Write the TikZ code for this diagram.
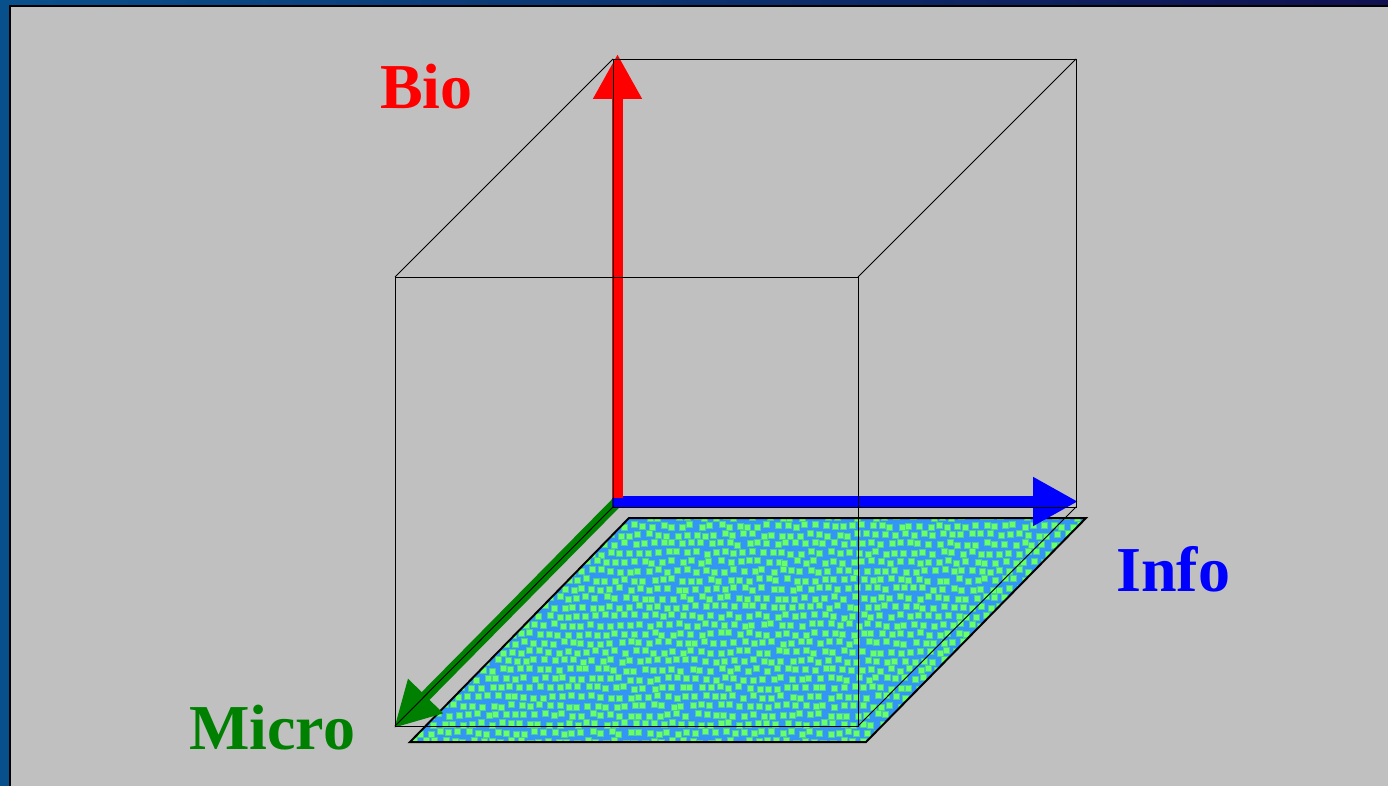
\documentclass[tikz,border=0pt]{standalone}
\usepackage{fontspec}
\setmainfont{Liberation Serif}
\usetikzlibrary{arrows.meta}
\definecolor{bggray}{RGB}{192,192,192}
\definecolor{framblue}{RGB}{8,80,140}
\definecolor{framnavy}{RGB}{16,16,80}
\definecolor{planeblue}{RGB}{51,150,245}
\definecolor{sqgreen}{RGB}{105,255,105}
\definecolor{sqedge}{RGB}{75,205,160}
\definecolor{axgreen}{RGB}{0,128,0}
\begin{document}
\begin{tikzpicture}[x=1pt,y=-1pt,
  axis/.style={line width=11pt,-{Triangle[length=45pt,width=46pt]}},
  cubeedge/.style={black,line width=0.9pt},
  lbl/.style={font=\fontsize{64}{70}\selectfont\bfseries,inner sep=0pt,anchor=base west}]
\useasboundingbox (0,0) rectangle (1388,786);
\fill[bggray] (0,0) rectangle (1388,786);
% frame
\fill[framblue] (0,0) rectangle (9,786);
\shade[left color=framblue,right color=framnavy] (0,0) rectangle (1388,5);
\draw[black,line width=2pt] (10,786) -- (10,6) -- (1388,6);
% cube corners
\coordinate (fTL) at (395,277);
\coordinate (fTR) at (858,277);
\coordinate (fBL) at (395,726);
\coordinate (fBR) at (858,726);
\coordinate (bTL) at (613,59);
\coordinate (bTR) at (1076,59);
\coordinate (bBL) at (613,507);
\coordinate (bBR) at (1076,507);
% plane
\coordinate (pTL) at (629,518);
\coordinate (pTR) at (1086,518);
\coordinate (pBR) at (866,742);
\coordinate (pBL) at (410,742);
\fill[planeblue] (pTL) -- (pTR) -- (pBR) -- (pBL) -- cycle;
\begin{scope}
\clip (pTL) -- (pTR) -- (pBR) -- (pBL) -- cycle;
\pgfmathsetseed{7}
\foreach \j in {0,...,25}{
  \foreach \i in {0,...,74}{
    \pgfmathsetmacro\px{400+\i*9.5+mod(\j,2)*4.75+4*rnd}
    \pgfmathsetmacro\py{515+\j*9+4*rnd}
    \fill[sqedge] (\px-3.5,\py-3.5) rectangle (\px+3.5,\py+3.5);
    \fill[sqgreen] (\px-2.5,\py-2.5) rectangle (\px+2.5,\py+2.5);
  }
}
\end{scope}
\draw[black,line width=2pt,line join=miter] (pTL) -- (pTR) -- (pBR) -- (pBL) -- cycle;
% axes
\coordinate (gS) at (616,503);
\coordinate (gE) at (394,728);
\coordinate (bS) at (612,501.5);
\coordinate (bE) at (1078,501.5);
\coordinate (rS) at (617.5,498);
\coordinate (rE) at (617.5,54);
\draw[axis,axgreen] (gS) -- (gE);
\draw[axis,blue] (bS) -- (bE);
\draw[axis,red] (rS) -- (rE);
% cube edges
\draw[cubeedge] (fTL) -- (fTR) -- (fBR) -- (fBL) -- cycle;
\draw[cubeedge] (bBL) -- (bTL) -- (bTR) -- (bBR) -- cycle;
\draw[cubeedge] (fTL) -- (bTL);
\draw[cubeedge] (fTR) -- (bTR);
\draw[cubeedge] (fBL) -- (bBL);
\draw[cubeedge] (fBR) -- (bBR);
% labels
\node[lbl,red] (bio) at (380,109) {Bio};
\node[lbl,blue] (info) at (1116,591) {Info};
\node[lbl,axgreen] (micro) at (189,749) {Micro};
\end{tikzpicture}
\end{document}
